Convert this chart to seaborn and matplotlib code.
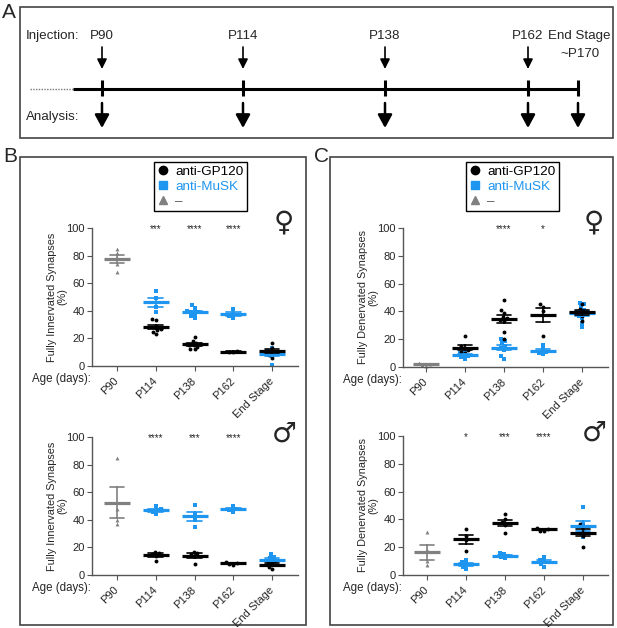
import numpy as np
import pandas as pd
import matplotlib
matplotlib.use("Agg")
import matplotlib.pyplot as plt
from matplotlib.patches import Rectangle
from matplotlib.lines import Line2D
import seaborn as sns

# ---------------- data ----------------
ages = ["P90", "P114", "P138", "P162", "End Stage"]
treated_ages = ["P114", "P138", "P162", "End Stage"]
groups = ["anti-GP120", "anti-MuSK", "–"]

timeline_points = ["P90", "P114", "P138", "P162"]

# Female, fully innervated (%)
f_inn_ctrl = [85, 82, 78, 74, 68]
f_inn_gp120 = [[33, 34, 29, 27, 26, 25, 23],
               [21, 18, 17, 16, 16, 15, 15, 14, 12, 12],
               [11, 10.5, 10],
               [17, 13, 11, 10, 8, 6]]
f_inn_musk = [[54, 49, 43, 39],
              [44, 42, 40, 39, 39, 38, 36, 35],
              [41, 38, 36, 35],
              [13, 11, 10, 9, 8, 7, 1]]
f_inn_stars = ["", "***", "****", "****", ""]

# Male, fully innervated (%)
m_inn_ctrl = [85, 48, 40, 37]
m_inn_gp120 = [[17, 16, 15, 14, 10],
               [17, 16, 15, 14, 8],
               [9.5, 8.5, 8, 7.5],
               [10, 9, 8, 6, 4]]
m_inn_musk = [[50, 48, 47, 46, 44],
              [51, 44, 40, 35],
              [50, 48, 47, 46],
              [15, 13, 12, 10, 9, 7]]
m_inn_stars = ["", "****", "***", "****", ""]

# Female, fully denervated (%)
f_den_ctrl = [3, 2, 1.5, 1]
f_den_gp120 = [[22, 15, 14, 12, 11, 10],
               [48, 41, 39, 36, 35, 34, 33, 25, 20],
               [45, 43, 40, 22],
               [45, 42, 40, 39, 37, 33]]
f_den_musk = [[12, 10, 9, 8, 7, 6],
              [20, 19, 17, 15, 14, 12, 8, 6],
              [16, 13, 11, 10, 9],
              [46, 45, 43, 41, 40, 38, 37, 35, 32, 29]]
f_den_stars = ["", "", "****", "*", ""]

# Male, fully denervated (%)
m_den_ctrl = [31, 18, 10, 7]
m_den_gp120 = [[33, 28, 25, 17],
               [44, 40, 38, 36, 30],
               [34, 33, 32, 32],
               [37, 35, 32, 30, 28, 20]]
m_den_musk = [[11, 9, 8, 6, 4],
              [16, 15, 14, 13, 12],
              [13, 11, 10, 8, 6],
              [49, 37, 34, 30, 27]]
m_den_stars = ["", "*", "***", "****", ""]

BLUE = "#1E96F0"
GRAY = "#808080"
colors = {"anti-GP120": "black", "anti-MuSK": BLUE, "–": GRAY}
markers = {"anti-GP120": "o", "anti-MuSK": "s", "–": "^"}


def build_frame(ctrl, gp120, musk):
    rows = [("P90", "–", v) for v in ctrl]
    for age, vals in zip(treated_ages, gp120):
        rows += [(age, "anti-GP120", v) for v in vals]
    for age, vals in zip(treated_ages, musk):
        rows += [(age, "anti-MuSK", v) for v in vals]
    return pd.DataFrame(rows, columns=["age", "group", "value"])


# ---------------- figure ----------------
sns.set_theme(style="white")
plt.rcParams["font.family"] = ["Liberation Sans", "DejaVu Sans"]

W, H = 617, 628
fig = plt.figure(figsize=(W / 100, H / 100), dpi=100)

ov = fig.add_axes([0, 0, 1, 1])
ov.set_xlim(0, W)
ov.set_ylim(H, 0)
ov.axis("off")

# Panel boxes
for (x0, y0, x1, y1) in [(20, 7, 613, 138), (20, 157, 306, 625), (330, 157, 613, 625)]:
    ov.add_patch(Rectangle((x0, y0), x1 - x0, y1 - y0, fill=False, lw=1.2, ec="#444"))
for lab, x, y in [("A", 2, 13), ("B", 3, 156), ("C", 314, 156)]:
    ov.text(x, y, lab, fontsize=15, ha="left", va="center")

# Panel A timeline
tl_x = [102, 243, 385, 528]
end_x = 578
tl_y = 89
ov.plot([30, 73], [tl_y, tl_y], ls=(0, (1, 1)), lw=1, color="#777")
ov.plot([73, end_x], [tl_y, tl_y], lw=2.2, color="black", solid_capstyle="butt")
for x in tl_x + [end_x]:
    ov.plot([x, x], [80, 96], lw=2.2, color="black", solid_capstyle="butt")
for x, lab in zip(tl_x, timeline_points):
    ov.text(x, 36, lab, fontsize=9.6, ha="center", va="center")
    ov.annotate("", xy=(x, 69), xytext=(x, 47),
                arrowprops=dict(arrowstyle="-|>,head_length=0.58,head_width=0.29",
                                lw=1.2, color="black", mutation_scale=10, shrinkA=0, shrinkB=0))
for x in tl_x + [end_x]:
    ov.annotate("", xy=(x, 128), xytext=(x, 103),
                arrowprops=dict(arrowstyle="-|>,head_length=0.66,head_width=0.36",
                                lw=1.8, color="black", mutation_scale=12, shrinkA=0, shrinkB=0))
ov.text(579, 36, "End Stage", fontsize=9.6, ha="center", va="center")
ov.text(580, 54, "~P170", fontsize=9.6, ha="center", va="center")
ov.text(26, 36, "Injection:", fontsize=9.6, ha="left", va="center")
ov.text(26, 117, "Analysis:", fontsize=9.6, ha="left", va="center")

# Legends
handles = [Line2D([], [], ls="none", marker=markers[g], color=colors[g], markersize=6) for g in groups]
for bx, by in [(154, 162), (466, 162)]:
    fig.legend(handles, groups, loc="upper left",
               bbox_to_anchor=(bx / W, 1 - by / H), bbox_transform=fig.transFigure,
               frameon=True, fancybox=False, edgecolor="black", framealpha=1,
               fontsize=9.7, labelcolor=["black", BLUE, "#555"],
               handlelength=0.8, handletextpad=0.5, borderpad=0.25,
               labelspacing=0.2, borderaxespad=0)


def panel(left, right, top, bottom, p90_x, spacing, ctrl, gp120, musk, stars, ylabel, symbol):
    ax = fig.add_axes([left / W, 1 - bottom / H, (right - left) / W, (bottom - top) / H])
    ax.patch.set_alpha(0)
    df = build_frame(ctrl, gp120, musk)
    for g in ["–", "anti-MuSK", "anti-GP120"]:
        sub = df[df["group"] == g]
        sns.swarmplot(data=sub, x="age", y="value", order=ages, color=colors[g],
                      marker=markers[g], size=2.8, linewidth=0, ax=ax, zorder=2)
    for g in ["–", "anti-MuSK", "anti-GP120"]:
        sub = df[df["group"] == g]
        sns.pointplot(data=sub, x="age", y="value", order=ages, color=colors[g],
                      errorbar="se", capsize=0.38, linestyle="none", marker="_",
                      markersize=18.5, markeredgewidth=2.3,
                      err_kws={"linewidth": 1.2}, ax=ax, zorder=3)
    for c in ax.collections:
        c.set_clip_on(False)
    for ln in ax.lines:
        ln.set_clip_on(False)
    ax.set_xlim(-(p90_x - left) / spacing, 4 + (right - (p90_x + 4 * spacing)) / spacing)
    ax.set_ylim(0, 100)
    ax.set_yticks([0, 20, 40, 60, 80, 100])
    ax.set_xticks(range(len(ages)))
    ax.set_xticklabels(ages, rotation=45, ha="right", va="center", rotation_mode="anchor")
    ax.set_xlabel("")
    ax.set_ylabel(ylabel, fontsize=7.8, linespacing=1.0)
    ax.yaxis.set_label_coords(-0.12, 0.5)
    for s in ["top", "right"]:
        ax.spines[s].set_visible(False)
    for s in ["left", "bottom"]:
        ax.spines[s].set_color("#555")
        ax.spines[s].set_linewidth(1.0)
    ax.tick_params(axis="both", which="both", length=3.5, width=0.8, color="#555",
                   labelsize=8, pad=1.5, direction="out", left=True, bottom=True)
    ax.tick_params(axis="x", pad=6)
    for i, st in enumerate(stars):
        if st:
            ax.text(i, 99, st, ha="center", va="center", fontsize=7)
    ov.text(left - 1, bottom + 13, "Age (days):", fontsize=8.3, ha="right", va="center")
    ov.text(right - 14, top - 6 if symbol == "♀" else top - 3, symbol, fontsize=20,
            ha="center", va="center", family=["DejaVu Sans"], zorder=10)
    return ax


panel(92, 298, 228, 366, 117, 38.75, f_inn_ctrl, f_inn_gp120, f_inn_musk, f_inn_stars,
      "Fully Innervated Synapses\n(%)", "♀")
panel(92, 298, 437, 575, 117, 38.75, m_inn_ctrl, m_inn_gp120, m_inn_musk, m_inn_stars,
      "Fully Innervated Synapses\n(%)", "♂")
panel(403, 608, 228, 367, 426, 39, f_den_ctrl, f_den_gp120, f_den_musk, f_den_stars,
      "Fully Denervated Synapses\n(%)", "♀")
panel(403, 608, 436, 575, 427, 39, m_den_ctrl, m_den_gp120, m_den_musk, m_den_stars,
      "Fully Denervated Synapses\n(%)", "♂")

fig.savefig("out.png", dpi=100)
